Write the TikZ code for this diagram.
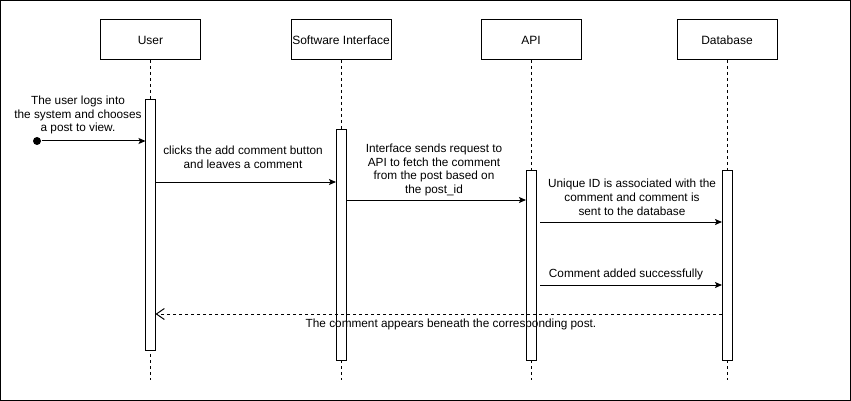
\documentclass[tikz,border=0pt]{standalone}
\usepackage{fontspec}
\setmainfont{Liberation Sans}
\usetikzlibrary{arrows.meta}
\begin{document}
\begin{tikzpicture}[x=1pt,y=-1pt,line width=1pt,
  actor/.style={draw,fill=white,minimum width=100pt,minimum height=40pt,inner sep=0pt,outer sep=0pt,font=\fontsize{12}{14}\selectfont},
  actbar/.style={draw,fill=white,minimum width=10pt,inner sep=0pt,outer sep=0pt},
  lifeline/.style={dash pattern=on 3pt off 3pt},
  msg/.style={-{Stealth[length=7pt,width=6pt,inset=1.5pt]}},
  ret/.style={dash pattern=on 3pt off 3pt,-{Straight Barb[length=8pt,width=11pt]}},
  lbl/.style={align=center,inner sep=0pt,font=\fontsize{11.8}{13.8}\selectfont}]
\useasboundingbox (0,0) rectangle (851,401);
\draw (0.5,0.5) rectangle (850.5,400.5);
% actors
\node[actor] (u) at (150.5,40) {User};
\node[actor] (s) at (341,40) {Software Interface};
\node[actor] (a) at (531,40) {API};
\node[actor] (d) at (727,40) {Database};
\coordinate (yend) at (0,380);
\foreach \n in {u,s,a,d} \draw[lifeline] (\n.south) -- (\n.south |- yend);
% activation bars
\node[actbar,minimum height=250pt] (ub) at (150.5,225) {};
\node[actbar,minimum height=230pt] (sb) at (341,245) {};
\node[actbar,minimum height=190pt] (ab) at (531,265) {};
\node[actbar,minimum height=190pt] (db) at (727,265) {};
% message 1
\node[circle,fill,inner sep=0pt,minimum size=8pt] (start) at (37,141) {};
\draw[msg] (start) -- (ub.west |- start);
\node[lbl] (l1) at (78,115) {The user logs into\\the system and chooses\\a post to view.};
% message 2
\coordinate (y2) at (0,182);
\draw[msg] (ub.east |- y2) -- (sb.west |- y2);
\node[lbl] (l2) at (243,157) {clicks the add comment button\\and leaves a comment};
% message 3
\coordinate (y3) at (0,200);
\draw[msg] (sb.east |- y3) -- (ab.west |- y3);
\node[lbl] (l3) at (434,170) {Interface sends request to\\API to fetch the comment\\from the post based on\\the post\_id};
% message 4
\coordinate (m4) at (540,222);
\draw[msg] (m4) -- (db.west |- m4);
\node[lbl] (l4) at (632,197) {Unique ID is associated with the\\comment and comment is\\sent to the database};
% message 5
\coordinate (m5) at (540,285);
\draw[msg] (m5) -- (db.west |- m5);
\node[lbl] (l5) at (626,274.5) {Comment added successfully};
% return
\coordinate (y6) at (0,314);
\draw[ret] (db.west |- y6) -- (ub.east |- y6);
\node[lbl] (l6) at (451,324.5) {The comment appears beneath the corresponding post.};
\end{tikzpicture}
\end{document}
